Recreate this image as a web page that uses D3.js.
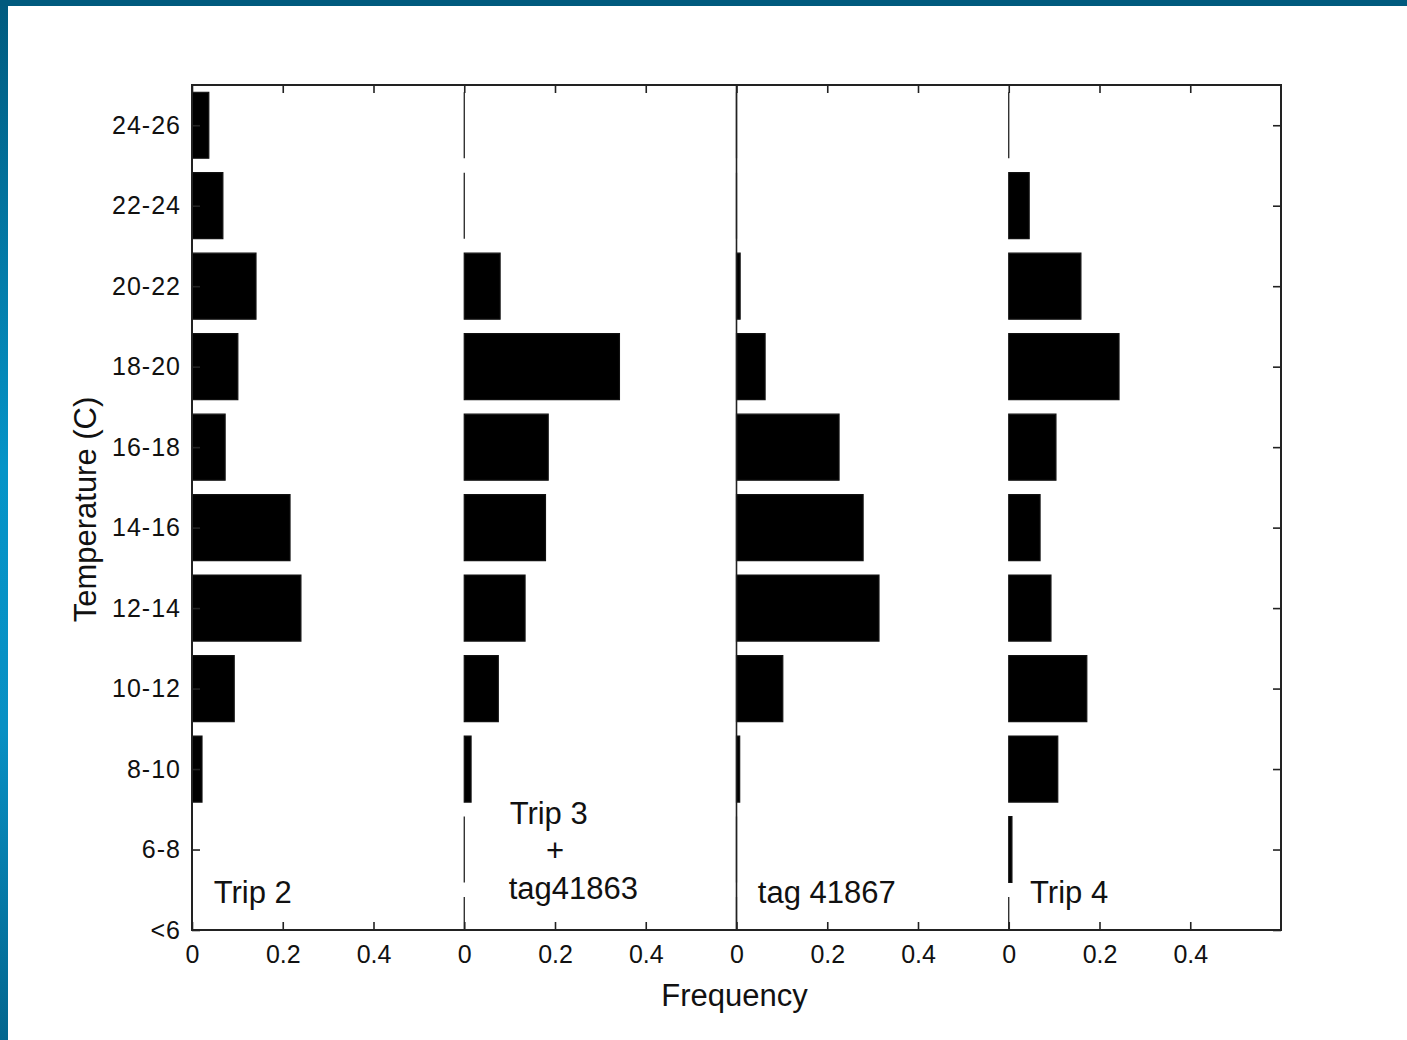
<!DOCTYPE html>
<html>
<head>
<meta charset="utf-8">
<script src="https://cdn.jsdelivr.net/npm/d3@7"></script>
<style>
  html, body { margin: 0; padding: 0; background: #fff; }
  svg { display: block; }
  text { font-family: "Liberation Sans", Arial, sans-serif; fill: #111; }
</style>
</head>
<body>
<svg id="chart" width="1407" height="1040"></svg>
<script>
// Temperature bins (bottom to top)
const tempBins = ["<6", "6-8", "8-10", "10-12", "12-14", "14-16", "16-18", "18-20", "20-22", "22-24", "24-26"];

// Frequency of time spent in each temperature bin, one array per panel
const trip2        = [0, 0,     0.022, 0.093, 0.240, 0.216, 0.073, 0.101, 0.141, 0.068, 0.037];
const trip3Tag     = [0, 0,     0.015, 0.075, 0.134, 0.179, 0.185, 0.342, 0.079, 0,     0];
const tag41867     = [0, 0,     0.007, 0.102, 0.314, 0.279, 0.226, 0.063, 0.008, 0,     0];
const trip4        = [0, 0.007, 0.108, 0.172, 0.093, 0.069, 0.104, 0.243, 0.159, 0.045, 0];

const panelSeries  = [trip2, trip3Tag, tag41867, trip4];
const panelOffsets = [0, 0.6, 1.2, 1.8];   // panels share one frequency axis, 0.6 apart
const freqTickLabels = ["0", "0.2", "0.4"];

// Panel annotations: [text, x (frequency units), y (bin index units), anchor]
const notes = [
  ["Trip 2",    0.048, 0.34, "start"],
  ["Trip 3",    0.700, 1.32, "start"],
  ["+",         0.800, 0.86, "middle"],
  ["tag41863",  0.698, 0.39, "start"],
  ["tag 41867", 1.247, 0.34, "start"],
  ["Trip 4",    1.847, 0.34, "start"]
];

const svg = d3.select("#chart");
const W = 1407, H = 1040;

// Page frame: dark band along the top, blue gradient strip down the left side
const defs = svg.append("defs");
const grad = defs.append("linearGradient").attr("id", "sideGrad")
  .attr("x1", 0).attr("y1", 0).attr("x2", 0).attr("y2", 1);
grad.append("stop").attr("offset", "0%").attr("stop-color", "#005a7e");
grad.append("stop").attr("offset", "45%").attr("stop-color", "#0594c8");
grad.append("stop").attr("offset", "70%").attr("stop-color", "#0890c4");
grad.append("stop").attr("offset", "100%").attr("stop-color", "#03668e");
svg.append("rect").attr("x", 0).attr("y", 0).attr("width", 8).attr("height", H).attr("fill", "url(#sideGrad)");
svg.append("rect").attr("x", 0).attr("y", 0).attr("width", W).attr("height", 6).attr("fill", "#005a7e");

const plot = { left: 192, right: 1281, top: 85, bottom: 930 };

const x = d3.scaleLinear().domain([0, 2.4]).range([plot.left, plot.right]);
const y = d3.scaleLinear().domain([0, 10.5]).range([plot.bottom, plot.top]);
const barHalf = 0.41;

defs.append("clipPath").attr("id", "plotClip")
  .append("rect")
  .attr("x", plot.left).attr("y", plot.top)
  .attr("width", plot.right - plot.left).attr("height", plot.bottom - plot.top);

// Bars: drawn as closed paths so that zero-frequency bins still show as a stroked line
const bars = svg.append("g").attr("clip-path", "url(#plotClip)");
panelSeries.forEach((series, p) => {
  const off = panelOffsets[p];
  bars.selectAll(null)
    .data(series.map((v, i) => ({ v, i })))
    .join("path")
    .attr("d", d => {
      const x0 = x(off), x1 = x(off + d.v);
      const y0 = y(d.i + barHalf), y1 = y(d.i - barHalf);
      return `M${x0},${y0}H${x1}V${y1}H${x0}Z`;
    })
    .attr("fill", "#000")
    .attr("stroke", "#111")
    .attr("stroke-width", 1.2);
});

// Full-height separator at the third panel's zero
svg.append("line")
  .attr("x1", x(panelOffsets[2])).attr("x2", x(panelOffsets[2]))
  .attr("y1", plot.top).attr("y2", plot.bottom)
  .attr("stroke", "#222").attr("stroke-width", 1.6);

// Axes: ticks point inward on all four sides
const xTicks = d3.range(0, 12).map(k => k * 0.2);
const yTicks = d3.range(0, tempBins.length);
const tickLen = 8;

const axisBottom = d3.axisBottom(x).tickValues(xTicks)
  .tickSize(-tickLen).tickPadding(tickLen + 7)
  .tickFormat((d, k) => freqTickLabels[k % 3]);
const axisTop = d3.axisTop(x).tickValues(xTicks).tickSize(-tickLen).tickFormat("");
const axisLeft = d3.axisLeft(y).tickValues(yTicks)
  .tickSize(-tickLen).tickPadding(tickLen + 3)
  .tickFormat(i => tempBins[i]);
const axisRight = d3.axisRight(y).tickValues(yTicks).tickSize(-tickLen).tickFormat("");

function styleAxis(g) {
  g.select(".domain").remove();
  g.selectAll(".tick line").attr("stroke", "#222").attr("stroke-width", 1.6);
  g.selectAll(".tick text").attr("font-size", 25).attr("fill", "#111")
    .attr("font-family", "'Liberation Sans', Arial, sans-serif");
}

svg.append("g").attr("transform", `translate(0,${plot.bottom})`).call(axisBottom).call(styleAxis);
svg.append("g").attr("transform", `translate(0,${plot.top})`).call(axisTop).call(styleAxis);
svg.append("g").attr("transform", `translate(${plot.left},0)`).call(axisLeft).call(styleAxis)
  .selectAll(".tick text").attr("letter-spacing", 1);
svg.append("g").attr("transform", `translate(${plot.right},0)`).call(axisRight).call(styleAxis);

// Frame
svg.append("rect")
  .attr("x", plot.left).attr("y", plot.top)
  .attr("width", plot.right - plot.left).attr("height", plot.bottom - plot.top)
  .attr("fill", "none").attr("stroke", "#222").attr("stroke-width", 2);

// Panel annotations
svg.append("g").selectAll("text")
  .data(notes)
  .join("text")
  .attr("x", d => x(d[1]))
  .attr("y", d => y(d[2]))
  .attr("text-anchor", d => d[3])
  .attr("font-size", 31)
  .text(d => d[0]);

// Axis titles
svg.append("text")
  .attr("x", (plot.left + plot.right) / 2 - 2)
  .attr("y", 1006)
  .attr("text-anchor", "middle")
  .attr("font-size", 31)
  .text("Frequency");

svg.append("text")
  .attr("transform", `translate(96,${(plot.top + plot.bottom) / 2 + 2}) rotate(-90)`)
  .attr("text-anchor", "middle")
  .attr("font-size", 31)
  .text("Temperature (C)");
</script>
</body>
</html>
